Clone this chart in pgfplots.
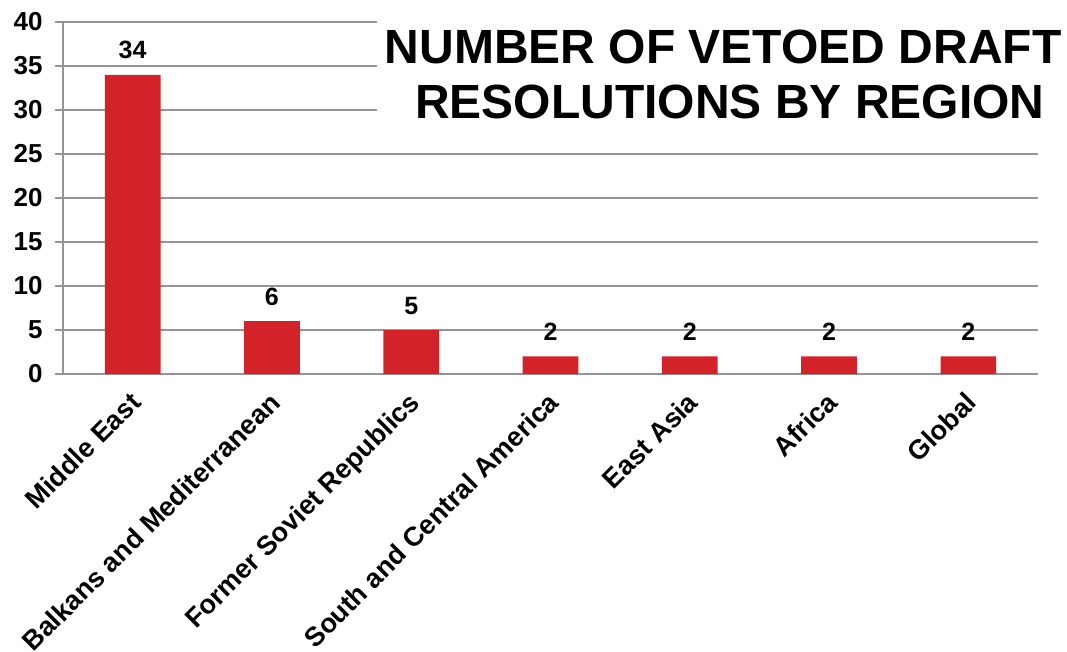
\documentclass[border=0pt]{standalone}
\usepackage{pgfplots}
\pgfplotsset{compat=1.18}
\usepackage{fontspec}
\setmainfont{Liberation Sans}
\definecolor{barred}{HTML}{D2232A}
\definecolor{gridgray}{HTML}{959595}
\begin{document}
\begin{tikzpicture}
\useasboundingbox (-63pt,-278pt) rectangle (1004pt,374pt);
\begin{axis}[
  at={(0,0)}, anchor=south west,
  scale only axis,
  width=975pt, height=352pt,
  xmin=-0.5, xmax=6.5,
  ymin=0, ymax=40,
  ytick={0,5,...,40},
  xtick={0,...,6},
  xticklabels={Middle East,Balkans and Mediterranean,Former Soviet Republics,South and Central America,East Asia,Africa,Global},
  major x tick style={draw=none},
  extra x ticks={-0.5,0.5,...,6.5},
  extra x tick labels={},
  extra x tick style={tick style={draw=gridgray, line width=1.5pt}, major tick length=8pt},
  axis x line=bottom, axis y line=left,
  axis line style={-, draw=gridgray, line width=1.8pt},
  tick align=outside,
  major tick length=8pt,
  y tick style={draw=gridgray, line width=1.5pt},
  ymajorgrids,
  major grid style={draw=gridgray, line width=1.5pt},
  /pgf/number format/assume math mode=true,
  yticklabel style={font=\fontsize{26}{28}\selectfont\bfseries, xshift=-9pt},
  xticklabel style={font=\fontsize{27}{30}\selectfont\bfseries, xshift=-4pt, yshift=-3.6pt, rotate=45, anchor=north east},
  ybar, bar width=0.4,
  nodes near coords,
  nodes near coords style={font=\fontsize{25}{28}\selectfont\bfseries, yshift=12pt},
  clip=false,
]
\addplot[fill=barred, draw=none] coordinates {(0,34) (1,6) (2,5) (3,2) (4,2) (5,2) (6,2)};
\node[fill=white, inner xsep=8pt, inner ysep=12pt, align=center,
      font=\fontsize{48}{55}\selectfont\bfseries]
  at (axis cs:4.24,34.0) {NUMBER OF VETOED DRAFT\\\hspace*{0.28em}RESOLUTIONS BY REGION};
\end{axis}
\end{tikzpicture}
\end{document}
